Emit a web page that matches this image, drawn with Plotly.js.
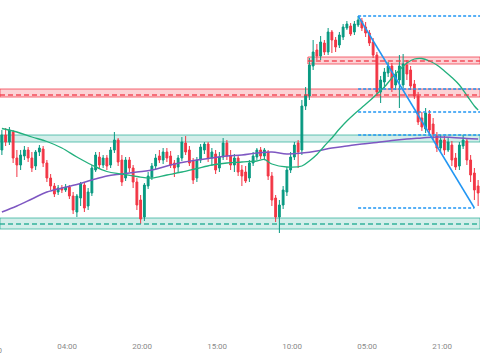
<!DOCTYPE html>
<html>
<head>
<meta charset="utf-8">
<script src="https://cdn.plot.ly/plotly-3.0.1.min.js"></script>
<style>html,body{margin:0;padding:0;background:#fff;}#chart{width:480px;height:360px;}</style>
</head>
<body>
<div id="chart"></div>
<script>
// ---- candle data (one candle per index) ----
const openP  = [250,265,258,268,242,235,244,250,242,234,248,251,237,222,214,208,212,210,213,204,188,202,215,194,207,230,243,235,242,235,250,260,240,222,240,232,218,200,183,214,223,234,244,240,248,244,237,233,242,257,250,239,222,240,250,256,242,246,232,243,257,244,235,242,230,228,222,237,243,250,244,248,224,202,183,195,208,230,243,257,250,294,304,334,350,344,357,348,368,360,355,363,372,374,368,375,379,373,367,358,345,308,318,327,334,315,320,315,335,330,316,304,282,271,286,276,264,252,260,250,255,242,234,254,259,240,227,214];
const highP  = [270,272,273,270,250,250,254,253,248,250,255,254,240,226,217,215,215,216,215,208,206,218,217,212,235,248,248,245,245,253,268,262,245,243,243,235,222,205,217,228,237,246,250,252,252,249,240,245,263,264,254,242,243,256,258,258,252,250,248,262,260,250,246,245,235,234,240,248,252,253,252,250,228,205,200,214,233,248,258,260,300,313,342,360,356,364,360,372,370,363,368,376,379,377,379,384,382,378,370,362,348,324,332,338,337,330,345,346,340,334,320,308,288,292,290,282,268,265,264,262,259,247,258,265,262,245,232,220];
const lowP   = [245,254,255,237,223,230,240,238,228,230,244,233,218,210,203,205,207,208,201,186,183,194,188,190,204,228,231,232,230,232,247,234,214,219,228,212,190,176,179,211,220,231,237,236,238,232,223,228,239,245,234,216,218,237,246,238,234,226,228,240,240,230,228,224,214,217,218,234,240,241,240,220,194,178,167,191,204,227,240,232,245,290,300,330,340,340,345,345,347,348,352,360,370,364,365,373,369,363,354,342,304,297,312,323,308,310,292,312,320,310,301,275,269,267,265,260,248,248,245,248,234,230,230,251,235,218,200,194];
const closeP = [265,258,270,242,235,245,250,242,232,248,252,237,222,214,206,212,210,213,204,190,204,216,192,208,232,245,235,242,234,250,260,238,218,240,232,218,195,181,215,224,234,242,240,248,242,235,232,242,258,248,237,220,240,253,256,242,248,230,243,257,244,235,242,228,224,219,237,244,250,244,250,224,200,183,195,210,230,243,255,248,294,305,335,348,344,358,348,368,360,353,365,373,376,366,376,380,372,367,357,345,308,320,328,334,312,326,334,336,326,314,304,278,273,287,270,266,252,260,250,258,240,233,255,260,240,225,210,207];

// ---- moving averages (index, value) ----
const maFastIdx = [0,4,8,12,16,20,24,28,32,36,40,44,48,52,56,60,64,68,70,72,76,80,82,84,86,88,90,92,94,96,98,100,102,104,106,108,110,112,114,116,118,120,122,124,126,127];
const maFastVal = [271.5,268,263,258.5,252,243,235,228.5,226,223.5,222,225,228,231.5,235,237,238,239,240.5,236,233,234,239,245.5,254,262,271,279,286,292.5,299,306,313,322,330,337,341,341.5,339,335,329,322.5,315,304.5,294,290];
const maSlowIdx = [0,4,8,12,16,20,24,28,32,36,40,44,48,52,56,60,64,68,72,76,80,84,88,92,96,100,104,108,112,116,120,124,127];
const maSlowVal = [188,194,201,208,212,215.5,220,224,226,228,230,234,237.5,240,242,244,245,247,248,246,247,249,252,254,256,257.5,259.5,261,262,263,262.5,261.5,261];

// ---- zones and levels ----
const resistZones = [{from:-0.5, lo:303, hi:311, mid:305}, {from:81.6, lo:336, hi:343, mid:339}];
const supportZones = [{from:-0.5, lo:258, hi:265, mid:null}, {from:-0.5, lo:171, hi:182, mid:176}];
const fibStartIdx = 95;
const fibEndIdx = 126;
const fibLevels = [384, 311, 288, 265, 192];

// ---- axis labels ----
const tickPos = [17.4, 37.4, 57.4, 77.4, 97.4, 117.4];
const tickLabels = ['04:00','20:00','15:00','10:00','05:00','21:00'];
const firstLabel = '09:00';

const idx = openP.map((_, i) => i);
const GREEN = '#089981', RED = '#f23645', BLUE = '#2196f3';
const XMAX = 127.5;

const traces = [
  {type:'scatter', mode:'lines', x:maSlowIdx, y:maSlowVal, line:{color:'#7e57c2', width:1.5, shape:'spline'}, hoverinfo:'skip'},
  {type:'scatter', mode:'lines', x:maFastIdx, y:maFastVal, line:{color:'#22b07d', width:1.3, shape:'spline'}, hoverinfo:'skip'},
  {type:'candlestick', x:idx, open:openP, high:highP, low:lowP, close:closeP,
   increasing:{line:{color:GREEN, width:1}, fillcolor:GREEN},
   decreasing:{line:{color:RED, width:1}, fillcolor:RED},
   whiskerwidth:0},
  {type:'scatter', mode:'lines', x:[fibStartIdx, fibEndIdx], y:[fibLevels[0], fibLevels[fibLevels.length-1]], line:{color:BLUE, width:1.5}, hoverinfo:'skip'}
];

const shapes = [];
resistZones.forEach(z => {
  shapes.push({type:'rect', xref:'x', yref:'y', x0:z.from, x1:XMAX, y0:z.lo, y1:z.hi, fillcolor:'rgba(242,54,69,0.22)', line:{color:'rgba(242,54,69,0.75)', width:1}, layer:'below'});
  if (z.mid !== null) shapes.push({type:'line', xref:'x', yref:'y', x0:z.from, x1:XMAX, y0:z.mid, y1:z.mid, line:{color:'rgba(242,54,69,0.85)', width:1.5, dash:'5px,3px'}});
});
supportZones.forEach(z => {
  shapes.push({type:'rect', xref:'x', yref:'y', x0:z.from, x1:XMAX, y0:z.lo, y1:z.hi, fillcolor:'rgba(34,171,148,0.2)', line:{color:'rgba(34,171,148,0.7)', width:1}, layer:'below'});
  if (z.mid !== null) shapes.push({type:'line', xref:'x', yref:'y', x0:z.from, x1:XMAX, y0:z.mid, y1:z.mid, line:{color:'rgba(34,171,148,0.9)', width:1.5, dash:'5px,3px'}});
});
fibLevels.forEach((lv, k) => {
  const end = (k === fibLevels.length - 1) ? fibEndIdx : XMAX;
  shapes.push({type:'line', xref:'x', yref:'y', x0:fibStartIdx, x1:end, y0:lv, y1:lv, line:{color:BLUE, width:1.5, dash:'3px,2px'}});
});

const layout = {
  width:480, height:360,
  margin:{l:0, r:0, t:0, b:20},
  paper_bgcolor:'#ffffff', plot_bgcolor:'#ffffff',
  showlegend:false,
  xaxis:{range:[-0.5, XMAX], tickmode:'array', tickvals:tickPos, ticktext:tickLabels,
         showgrid:false, zeroline:false, showline:false, ticks:'',
         tickfont:{family:'Roboto, sans-serif', size:8, color:'#8a8a8a'},
         rangeslider:{visible:false}, fixedrange:true},
  yaxis:{range:[60, 400], visible:false, showgrid:false, zeroline:false, fixedrange:true},
  shapes:shapes,
  annotations:[{xref:'paper', yref:'paper', x:0, y:0, xshift:-8, yshift:-4, yanchor:'top', xanchor:'center', showarrow:false,
                text:firstLabel, font:{family:'Roboto, sans-serif', size:8, color:'#8a8a8a'}}]
};

Plotly.newPlot('chart', traces, layout, {staticPlot:true, displayModeBar:false});
</script>
</body>
</html>
